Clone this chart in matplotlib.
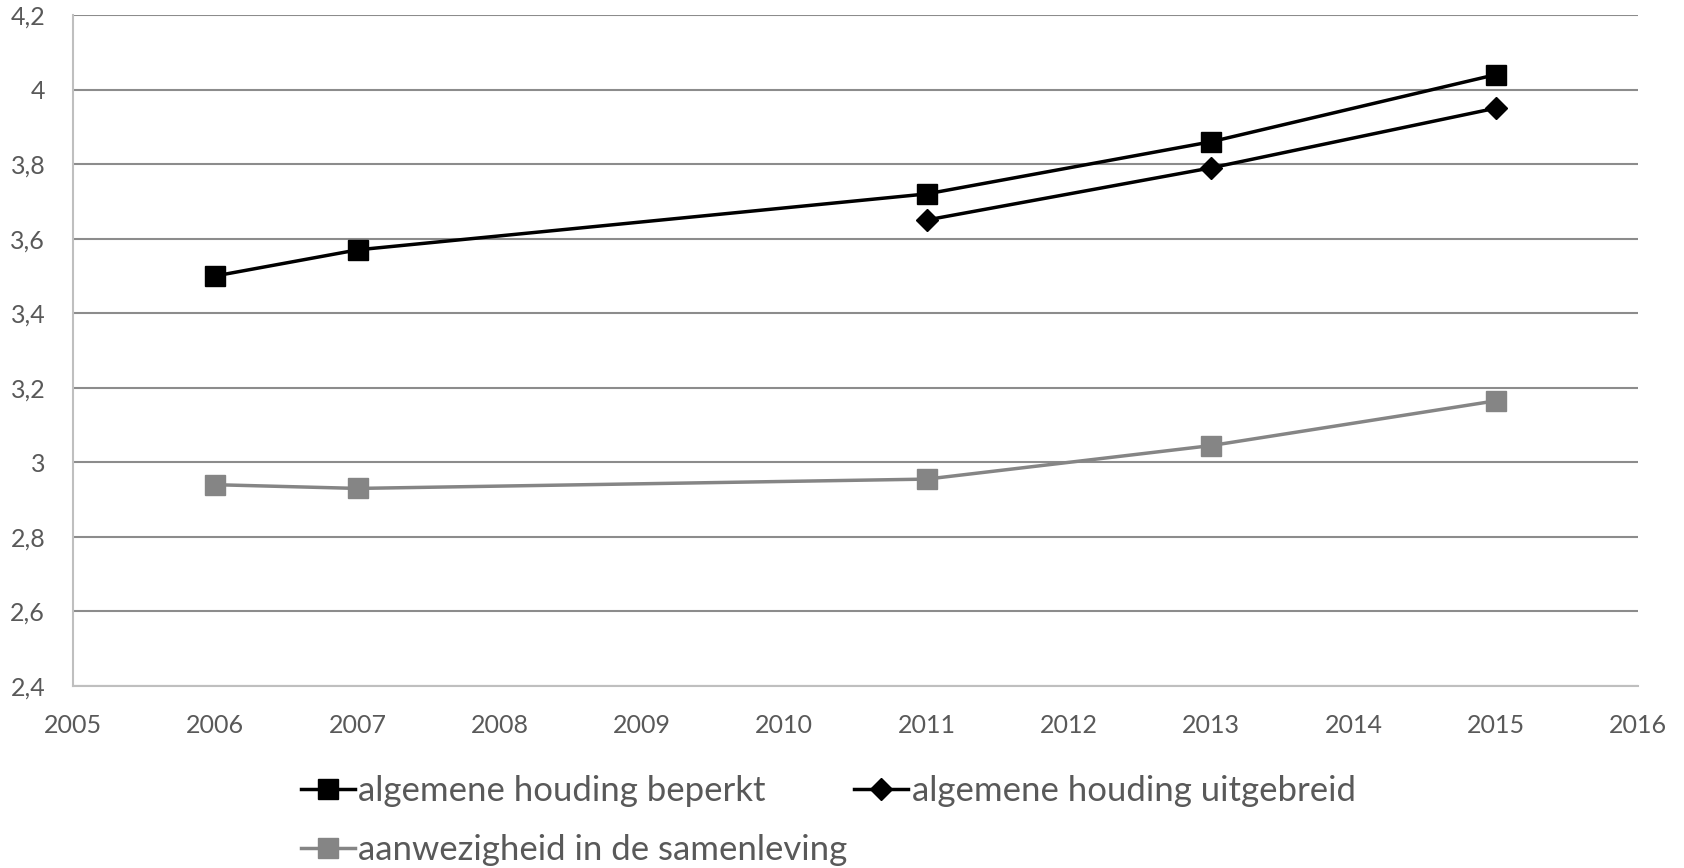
import numpy as np
import matplotlib.pyplot as plt

# data
years_beperkt = [2006, 2007, 2011, 2013, 2015]
beperkt = [3.50, 3.57, 3.72, 3.86, 4.04]
years_uitgebreid = [2011, 2013, 2015]
uitgebreid = [3.65, 3.79, 3.95]
years_aanwezig = [2006, 2007, 2011, 2013, 2015]
aanwezig = [2.94, 2.93, 2.955, 3.045, 3.165]

x_ticks = list(range(2005, 2017))
y_ticks = [2.4, 2.6, 2.8, 3.0, 3.2, 3.4, 3.6, 3.8, 4.0, 4.2]
y_labels = ['2,4', '2,6', '2,8', '3', '3,2', '3,4', '3,6', '3,8', '4', '4,2']

plt.rcParams['font.family'] = ['Lato', 'DejaVu Sans']

fig = plt.figure(figsize=(16.84, 8.68), dpi=100)
ax = fig.add_axes([73/1684, 1 - 686/868, (1638 - 73)/1684, (686 - 15)/868])

l1, = ax.plot(years_beperkt, beperkt, color='black', lw=2.5, marker='s', ms=14)
l2, = ax.plot(years_uitgebreid, uitgebreid, color='black', lw=2.5, marker='D', ms=11.5)
l3, = ax.plot(years_aanwezig, aanwezig, color='#858585', lw=2.5, marker='s', ms=14)

ax.set_xlim(2005, 2016)
ax.set_ylim(2.4, 4.2)
ax.set_xticks(x_ticks)
ax.set_yticks(y_ticks)
ax.set_yticklabels(y_labels)
ax.tick_params(length=0, labelsize=18, labelcolor='#595959')
ax.tick_params(axis='x', pad=20)
ax.tick_params(axis='y', pad=20)

ax.grid(axis='y', color='#8c8c8c', lw=1.5)
ax.set_axisbelow(True)
for s in ['top', 'right']:
    ax.spines[s].set_visible(False)
for s in ['left', 'bottom']:
    ax.spines[s].set_color('#bfbfbf')
    ax.spines[s].set_linewidth(1.5)

# legend: row 1 two entries, row 2 one entry
leg = fig.legend([l1, l3, l2],
                 ['algemene houding beperkt', 'aanwezigheid in de samenleving',
                  'algemene houding uitgebreid'],
                 ncol=2, loc='upper left', bbox_to_anchor=(301/1684, 1 - 775/868),
                 frameon=False, fontsize=25, labelcolor='#595959',
                 handlelength=1.55, handletextpad=0.1, columnspacing=0.2,
                 labelspacing=0.78, borderpad=0, borderaxespad=0)

fig.savefig('out.png', dpi=100)
